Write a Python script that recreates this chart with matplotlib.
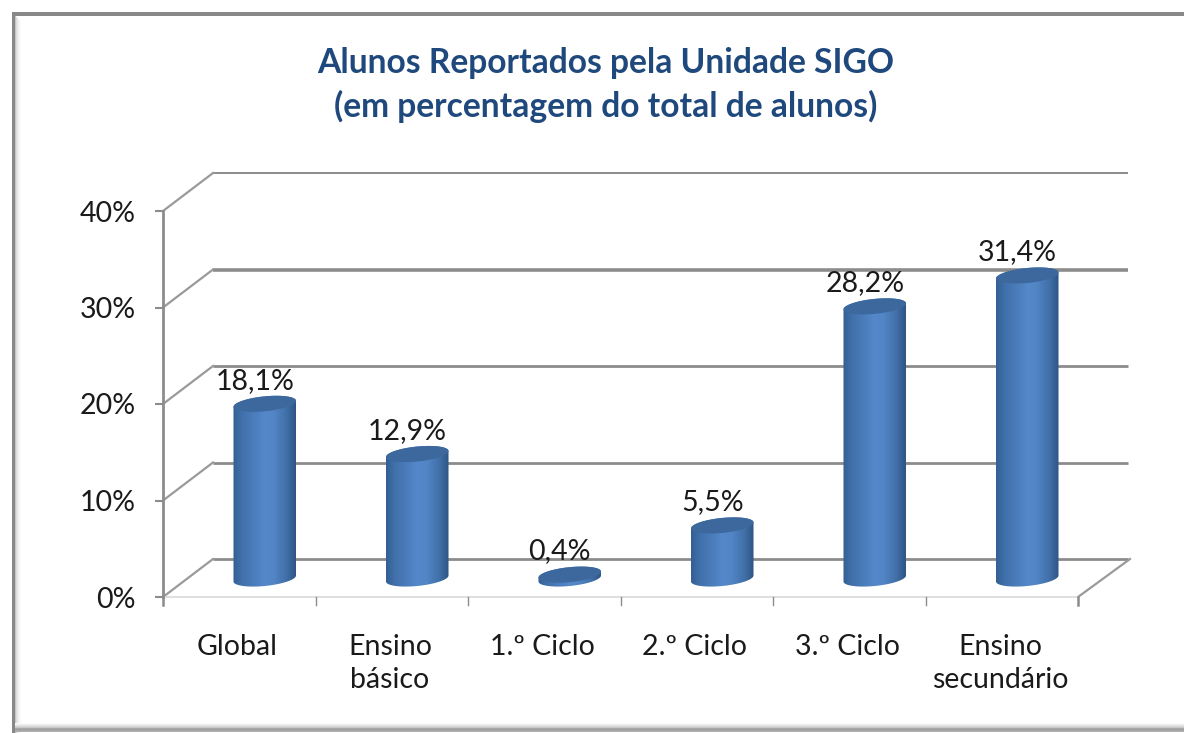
import numpy as np
import matplotlib
matplotlib.use("Agg")
import matplotlib.pyplot as plt
from matplotlib.colors import LinearSegmentedColormap
from matplotlib.patches import PathPatch
from matplotlib.path import Path
from matplotlib.transforms import Affine2D

categories = ["Global", "Ensino\nbásico", "1.º Ciclo", "2.º Ciclo", "3.º Ciclo", "Ensino\nsecundário"]
values = [18.1, 12.9, 0.4, 5.5, 28.2, 31.4]
value_labels = ["18,1%", "12,9%", "0,4%", "5,5%", "28,2%", "31,4%"]
y_ticks = [0, 10, 20, 30, 40]
y_tick_labels = ["0%", "10%", "20%", "30%", "40%"]
title = "Alunos Reportados pela Unidade SIGO\n(em percentagem do total de alunos)"

W, H = 1184, 733
DPI = 100
plt.rcParams["font.family"] = ["Lato", "DejaVu Sans"]
fig = plt.figure(figsize=(W / DPI, H / DPI), dpi=DPI, facecolor="white")

bg = fig.add_axes([0, 0, 1, 1], zorder=0)
bg.set_xlim(0, W); bg.set_ylim(H, 0); bg.axis("off")
# frame with soft inner shadow
bg.fill_between([12, W], 12, 16, color="#888888", lw=0)
bg.fill_between([12, 15], 12, 733, color="#888888", lw=0)
for i, c in enumerate(["#c4c4c4", "#dcdcdc", "#e8e8e8", "#f0f0f0", "#f6f6f6", "#fbfbfb"]):
    bg.fill_between([15 + i, 16 + i + 0.2], 16 + i, 733, color=c, lw=0)
for i, c in enumerate(["#fafafa", "#f0f0f0", "#e4e4e4", "#d8d8d8", "#c8c8c8", "#a8a8a8", "#a0a0a0", "#a8a8a8", "#b0b0b0"]):
    bg.fill_between([15, W], 723 + i, 724.2 + i, color=c, lw=0)

# front plane axes: x = category slot, y = percent
x0, x1, y0, y40 = 163, 1078, 597, 211
ax = fig.add_axes([x0 / W, 1 - y0 / H, (x1 - x0) / W, (y0 - y40) / H], zorder=1)
ax.set_xlim(-0.5, 5.5); ax.set_ylim(0, 40)
ax.patch.set_alpha(0)
for s in ["top", "right", "bottom"]:
    ax.spines[s].set_visible(False)
ax.spines["left"].set_color("#8c8c8c"); ax.spines["left"].set_linewidth(2.0)
ax.set_xticks([]); ax.set_yticks(y_ticks); ax.set_yticklabels(y_tick_labels)
ax.tick_params(axis="y", length=5.5, width=1.5, color="#8c8c8c", labelsize=20.5, pad=14, labelcolor="#1a1a1a")

dx, dy = 50, 38  # wall depth in pixels
back = ax.transData + Affine2D().translate(dx, dy)
mid = ax.transData + Affine2D().translate(dx / 2 + 0.5, dy / 2 - 0.5)
label_tr = ax.transData + Affine2D().translate(dx / 2 - 9.5, dy / 2 - 0.5)

# walls and gridlines
for t in y_ticks:
    ax.plot([-0.5, 5.5], [t, t], transform=back, color="#8c8c8c", clip_on=False,
            lw=2.6 if t == 30 else (1.4 if t == 40 else 2.0), zorder=1, solid_capstyle="butt")
    p0 = ax.transData.transform((-0.5, t))
    ax.plot([p0[0], p0[0] + dx], [p0[1], p0[1] + dy], transform=None, color="#9a9a9a",
            lw=1.6, clip_on=False, zorder=1)
pr = ax.transData.transform((5.5, 0))
ax.plot([pr[0], pr[0] + dx + 2], [pr[1], pr[1] + dy], transform=None, color="#9a9a9a", lw=1.6, clip_on=False, zorder=1)
ax.plot([-0.5, 5.5], [0, 0], color="#d9d9d9", lw=1.2, clip_on=False, zorder=1)

# category ticks and labels
for i in range(len(categories) + 1):
    ax.plot([i - 0.5, i - 0.5], [0, -0.85], color="#8c8c8c", lw=1.0 if 0 < i < 6 else 1.8, clip_on=False, zorder=1)
for i, c in enumerate(categories):
    ax.text(i - 0.012, -3.85, c, ha="center", va="top", fontsize=20.5, color="#1a1a1a", linespacing=1.33)

# cylinders
grad = np.linspace(0, 1, 256).reshape(1, -1)
cmap = LinearSegmentedColormap.from_list("cyl", [
    (0.0, "#335f94"), (0.15, "#4272ac"), (0.5, "#5488ca"), (0.65, "#5285c5"),
    (0.85, "#4170a8"), (1.0, "#2e5484")])
hw, b_px, s_px = 0.205, 7.5, 3.0
ysc = (y0 - y40) / 40
n = 60
th = np.linspace(0, 2 * np.pi, n)
for i, v in enumerate(values):
    b = b_px / ysc; s = s_px / ysc
    t_low = np.linspace(np.pi, 2 * np.pi, n // 2)
    bx = i + hw * np.cos(t_low)
    by = b * np.sin(t_low) + s * np.cos(t_low)
    t_up = np.linspace(0, np.pi, n // 2)
    tx = i + hw * np.cos(t_up)
    ty = v + b * np.sin(t_up) + s * np.cos(t_up)
    verts = np.column_stack([np.r_[bx, tx], np.r_[by, ty]])
    body = PathPatch(Path(np.vstack([verts, verts[0]])), transform=mid, fc="none", ec="none")
    ax.add_patch(body)
    im = ax.imshow(grad, cmap=cmap, aspect="auto", extent=[i - hw, i + hw, -2, v + 2],
                   transform=mid, zorder=3, clip_on=True, interpolation="bilinear")
    im.set_clip_path(body)
    cap = PathPatch(Path(np.column_stack([i + hw * np.cos(th), v + b * np.sin(th) + s * np.cos(th)])),
                    transform=mid, fc="#3c689e", ec="none", zorder=4)
    ax.add_patch(cap)
    ax.text(i, v + 1.05, value_labels[i], transform=label_tr, ha="center", va="bottom",
            fontsize=20.5, color="#1a1a1a", zorder=5, clip_on=False)
ax.set_xlim(-0.5, 5.5); ax.set_ylim(0, 40)

fig.text(606 / W, 1 - 85 / H, title, ha="center", va="center", fontsize=24.2, fontweight="bold",
         color="#1f497d", linespacing=1.37, zorder=6)
fig.savefig("out.png", dpi=DPI)
